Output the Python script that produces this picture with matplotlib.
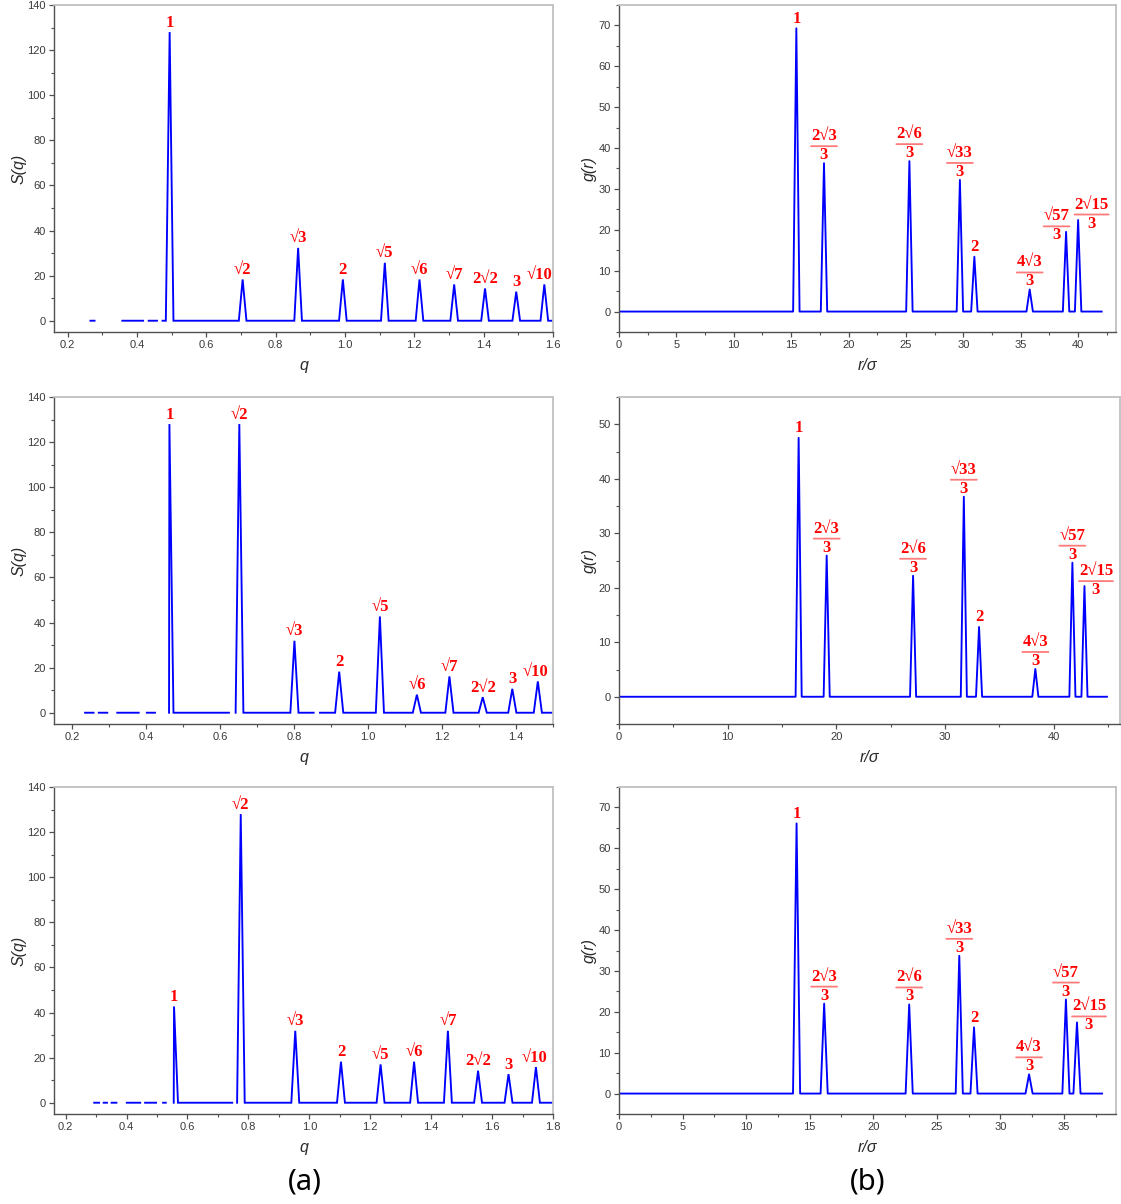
import matplotlib
matplotlib.use('Agg')
import matplotlib.pyplot as plt
import numpy as np
from matplotlib.ticker import MultipleLocator
from matplotlib.transforms import offset_copy

W, H = 1121, 1204

# ------------------------------------------------------------------ data
sq_labels = ['1', '√2', '√3', '2', '√5', '√6', '√7', '2√2', '3', '√10']

sq_top_q = [0.4945, 0.705, 0.865, 0.994, 1.115, 1.215, 1.315, 1.404, 1.494, 1.575]
sq_top_S = [128, 18.3, 32.3, 18.3, 25.7, 18.3, 16.1, 14.3, 12.9, 16.1]
sq_top_segments = [(0.266, 0.278), (0.358, 0.418), (0.434, 0.458), (0.474, 1.6)]

sq_mid_q = [0.463, 0.652, 0.801, 0.922, 1.032, 1.132, 1.220, 1.310, 1.390, 1.459]
sq_mid_S = [128, 128, 31.9, 18.2, 42.7, 8.0, 16.1, 6.9, 10.6, 13.9]
sq_mid_segments = [(0.235, 0.258), (0.272, 0.295), (0.322, 0.38), (0.402, 0.424),
                   (0.462, 0.624), (0.642, 0.853), (0.870, 1.5)]

sq_bot_q = [0.556, 0.775, 0.954, 1.104, 1.234, 1.344, 1.455, 1.554, 1.654, 1.744]
sq_bot_S = [42.7, 128, 31.9, 18.2, 17.0, 18.2, 31.9, 14.2, 12.7, 15.8]
sq_bot_segments = [(0.294, 0.31), (0.325, 0.336), (0.351, 0.367), (0.401, 0.445),
                   (0.461, 0.497), (0.52, 0.529), (0.555, 0.747), (0.763, 1.8)]

gr_labels = ['1', '2√3/3', '2√6/3', '√33/3', '2', '4√3/3', '√57/3', '2√15/3']

gr_top_r = [15.45, 17.86, 25.30, 29.70, 30.96, 35.78, 38.95, 40.0]
gr_top_g = [69.3, 36.3, 36.8, 32.2, 13.4, 5.4, 19.5, 22.4]
gr_top_segments = [(0.0, 42.05)]

gr_mid_r = [16.53, 19.11, 27.06, 31.73, 33.13, 38.31, 41.72, 42.83]
gr_mid_g = [47.5, 25.9, 22.2, 36.7, 12.8, 5.1, 24.6, 20.3]
gr_mid_segments = [(0.0, 44.9)]

gr_bot_r = [13.97, 16.14, 22.83, 26.77, 27.93, 32.26, 35.16, 36.03]
gr_bot_g = [66.1, 22.0, 21.8, 33.7, 16.2, 4.7, 23.0, 17.4]
gr_bot_segments = [(0.0, 38.0)]

# ------------------------------------------------------------------ style
BLUE = '#0000ff'
RED = '#ff0000'
FRAC_LINE = '#ff7a7a'
SANS = ['Liberation Sans', 'DejaVu Sans']
SERIF = ['Liberation Serif', 'DejaVu Serif']
PX = 0.72  # points per pixel at dpi 100

fig = plt.figure(figsize=(W / 100, H / 100), dpi=100)


def add_axes(left, right, top, bottom):
    return fig.add_axes([left / W, 1 - bottom / H, (right - left) / W, (bottom - top) / H])


def build_curve(segments, px, py, w):
    xs, ys = [], []
    for a, b in segments:
        xs.append(a); ys.append(0)
        for p, h in zip(px, py):
            if a <= p <= b:
                xs += [max(a, p - w), p, min(b, p + w)]
                ys += [0, h, 0]
        xs.append(b); ys.append(0)
        xs.append(np.nan); ys.append(np.nan)
    return xs, ys


def style_axes(ax, xlim, ylim, xmaj, xmin, ymaj, ymin, xlabel, ylabel, xlabel_y, ylabel_x):
    ax.set_xlim(*xlim)
    ax.set_ylim(*ylim)
    ax.xaxis.set_major_locator(MultipleLocator(xmaj))
    ax.xaxis.set_minor_locator(MultipleLocator(xmin))
    ax.yaxis.set_major_locator(MultipleLocator(ymaj))
    ax.yaxis.set_minor_locator(MultipleLocator(ymin))
    for s in ['left', 'bottom']:
        ax.spines[s].set_color('#505050')
        ax.spines[s].set_linewidth(1.0)
    for s in ['top', 'right']:
        ax.spines[s].set_color('#c0c0c0')
        ax.spines[s].set_linewidth(1.3)
    ax.tick_params(which='both', direction='out', colors='#505050', top=False, right=False)
    ax.tick_params(which='major', length=3.5, width=0.9, labelsize=8, labelcolor='#3a3a3a', pad=2.5)
    ax.tick_params(which='minor', length=2, width=0.8)
    for lab in ax.get_xticklabels() + ax.get_yticklabels():
        lab.set_family(SANS)
    ax.set_xlabel(xlabel, fontsize=11.5, style='italic', family=SANS, color='#2a2a2a')
    ax.set_ylabel(ylabel, fontsize=11.5, style='italic', family=SANS, color='#2a2a2a')
    ax.xaxis.set_label_coords(0.5, xlabel_y)
    ax.yaxis.set_label_coords(ylabel_x, 0.5)


def draw_label(ax, x, y, text, dx=0.0, dy=0.0):
    kw = dict(color=RED, fontsize=12, fontweight='bold', family=SERIF,
              ha='center', va='center', textcoords='offset points', annotation_clip=False)
    if '/' in text:
        num, den = text.split('/')
        ax.annotate(den, (x, y), xytext=((dx) * PX, (dy + 8) * PX), **kw)
        ax.annotate(num, (x, y), xytext=((dx) * PX, (dy + 27) * PX), **kw)
        hw = 13 if len(num) <= 3 else 17
        t1 = offset_copy(ax.transData, fig=fig, x=(dx - hw) * PX, y=(dy + 17) * PX, units='points')
        t2 = offset_copy(ax.transData, fig=fig, x=(dx + hw) * PX, y=(dy + 17) * PX, units='points')
        ax.annotate('', xy=(x, y), xycoords=t1, xytext=(x, y), textcoords=t2,
                    arrowprops=dict(arrowstyle='-', color=FRAC_LINE, lw=1.3, shrinkA=0, shrinkB=0),
                    annotation_clip=False)
    else:
        ax.annotate(text, (x, y), xytext=(dx * PX, (dy + 9.5) * PX), **kw)


# label offsets (pixels): index -> (dx, dy)
sq_offsets = [{9: (-5, 0)}, {9: (-2, 0)}, {9: (-1.5, 0)}]
gr_offsets = [{6: (-9.5, -11.5), 7: (13.5, -11.5)},
              {7: (11.5, -12)},
              {7: (12, -11)}]

rows = [(5, 332), (397, 724), (787, 1114)]

sq_data = [(sq_top_q, sq_top_S, sq_top_segments, (0.161, 1.6), 0.011),
           (sq_mid_q, sq_mid_S, sq_mid_segments, (0.151, 1.5), 0.011),
           (sq_bot_q, sq_bot_S, sq_bot_segments, (0.162, 1.8), 0.013)]

gr_data = [(gr_top_r, gr_top_g, gr_top_segments, (0, 43.3), (-5, 75), 5, 2.5, 1116),
           (gr_mid_r, gr_mid_g, gr_mid_segments, (0, 46.1), (-5, 55), 10, 5, 1120),
           (gr_bot_r, gr_bot_g, gr_bot_segments, (0, 39.1), (-5, 75), 5, 2.5, 1116)]

for i, (top, bottom) in enumerate(rows):
    # ---- S(q)
    q, S, segs, xl, w = sq_data[i]
    ax = add_axes(54, 553, top, bottom)
    xs, ys = build_curve(segs, q, S, w)
    ax.plot(xs, ys, color=BLUE, lw=1.35, solid_joinstyle='miter')
    style_axes(ax, xl, (-5, 140), 0.2, 0.1, 20, 10, 'q', 'S(q)', -0.08, -0.056)
    for k, (qq, ss) in enumerate(zip(q, S)):
        dx, dy = sq_offsets[i].get(k, (0, 0))
        draw_label(ax, qq, ss, sq_labels[k], dx, dy)

    # ---- g(r)
    r, g, segs, xl, yl, xmaj, xmin, right = gr_data[i]
    ax = add_axes(619, right, top, bottom)
    xs, ys = build_curve(segs, r, g, 0.28)
    ax.plot(xs, ys, color=BLUE, lw=1.35)
    style_axes(ax, xl, yl, xmaj, xmin, 10, 5, 'r/σ', 'g(r)', -0.08, -0.044)
    for k, (rr, gg) in enumerate(zip(r, g)):
        dx, dy = gr_offsets[i].get(k, (0, 0))
        draw_label(ax, rr, gg, gr_labels[k], dx, dy)

fig.text(305 / W, 1 - 1182 / H, '(a)', fontsize=21, family=['Noto Sans', 'DejaVu Sans'],
         ha='center', va='center')
fig.text(868 / W, 1 - 1182 / H, '(b)', fontsize=21, family=['Noto Sans', 'DejaVu Sans'],
         ha='center', va='center')

fig.savefig('out.png', dpi=100)
